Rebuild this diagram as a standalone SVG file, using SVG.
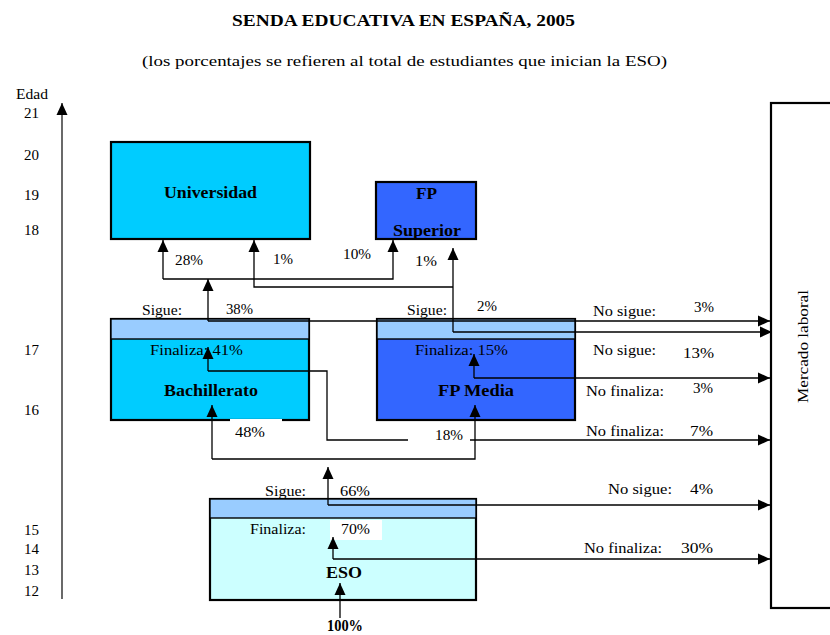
<svg xmlns="http://www.w3.org/2000/svg" width="830" height="635" viewBox="0 0 830 635">
<style>
text{font-family:"Liberation Serif","Times New Roman",serif;fill:#000}
.t{font-size:15px}
.b{font-size:17px;font-weight:bold}
.c{fill:none;stroke:#000;stroke-width:1.3}
.box{stroke:#000;stroke-width:2.2}
.band{fill:#99CCFF;stroke:#000;stroke-width:1.4}
.wl{fill:#fff;stroke:none}
</style>
<defs>
<marker id="ah" markerUnits="userSpaceOnUse" markerWidth="12" markerHeight="12" refX="12" refY="6" orient="auto"><path d="M0,0.5 L12,6 L0,11.5 z" fill="#000"/></marker>
</defs>
<rect width="830" height="635" fill="#fff"/>

<g id="title">
<text class="b" x="232" y="26" font-size="16" textLength="343" lengthAdjust="spacingAndGlyphs">SENDA EDUCATIVA EN ESPAÑA, 2005</text>
<text class="t" x="142" y="66" font-size="16" textLength="525" lengthAdjust="spacingAndGlyphs">(los porcentajes se refieren al total de estudiantes que inician la ESO)</text>
</g>

<g id="axis">
<line x1="62" y1="599" x2="62" y2="103" stroke="#444" stroke-width="1.6" marker-end="url(#ah)"/>
<text class="t" x="16" y="99" font-size="13" textLength="32" lengthAdjust="spacingAndGlyphs">Edad</text>
<text class="t" x="24" y="118" textLength="15" lengthAdjust="spacingAndGlyphs">21</text>
<text class="t" x="24" y="160" textLength="15" lengthAdjust="spacingAndGlyphs">20</text>
<text class="t" x="24" y="200" textLength="15" lengthAdjust="spacingAndGlyphs">19</text>
<text class="t" x="24" y="235" textLength="15" lengthAdjust="spacingAndGlyphs">18</text>
<text class="t" x="24" y="355" textLength="15" lengthAdjust="spacingAndGlyphs">17</text>
<text class="t" x="24" y="415" textLength="15" lengthAdjust="spacingAndGlyphs">16</text>
<text class="t" x="24" y="535" textLength="15" lengthAdjust="spacingAndGlyphs">15</text>
<text class="t" x="24" y="554" textLength="15" lengthAdjust="spacingAndGlyphs">14</text>
<text class="t" x="24" y="575" textLength="15" lengthAdjust="spacingAndGlyphs">13</text>
<text class="t" x="24" y="596" textLength="15" lengthAdjust="spacingAndGlyphs">12</text>
</g>

<g id="universidad">
<rect class="box" x="111" y="142" width="199" height="97" fill="#00CCFF"/>
<text class="b" x="164" y="198" textLength="93" lengthAdjust="spacingAndGlyphs">Universidad</text>
</g>

<g id="fp-superior">
<rect class="box" x="376" y="182" width="100" height="57" fill="#3366FF"/>
<text class="b" x="416" y="199" textLength="21" lengthAdjust="spacingAndGlyphs">FP</text>
<text class="b" x="393" y="236" textLength="68" lengthAdjust="spacingAndGlyphs">Superior</text>
</g>

<g id="bachillerato">
<rect class="wl" x="213" y="301" width="54" height="18"/>
<rect class="box" x="111" y="319" width="198" height="101" fill="#00CCFF"/>
<rect class="band" x="111" y="319" width="198" height="20"/>
<rect class="wl" x="230" y="419" width="52" height="24"/>
<text class="t" x="142" y="315" textLength="40" lengthAdjust="spacingAndGlyphs">Sigue:</text>
<text class="t" x="226" y="314" textLength="27" lengthAdjust="spacingAndGlyphs">38%</text>
<text class="t" x="150" y="355" textLength="93" lengthAdjust="spacingAndGlyphs">Finaliza: 41%</text>
<text class="b" x="164" y="396" textLength="94" lengthAdjust="spacingAndGlyphs">Bachillerato</text>
<text class="t" x="235" y="437" textLength="30" lengthAdjust="spacingAndGlyphs">48%</text>
</g>

<g id="fp-media">
<rect class="box" x="377" y="319" width="198" height="101" fill="#3366FF"/>
<rect class="band" x="377" y="319" width="198" height="20"/>
<text class="t" x="407" y="315" textLength="40" lengthAdjust="spacingAndGlyphs">Sigue:</text>
<text class="t" x="477" y="311" textLength="20" lengthAdjust="spacingAndGlyphs">2%</text>
<text class="t" x="415" y="355" textLength="93" lengthAdjust="spacingAndGlyphs">Finaliza: 15%</text>
<text class="b" x="438" y="396" textLength="76" lengthAdjust="spacingAndGlyphs">FP Media</text>
</g>

<g id="eso">
<rect class="wl" x="336" y="482" width="46" height="17"/>
<rect class="box" x="210" y="499" width="266" height="101" fill="#CCFFFF"/>
<rect class="band" x="210" y="499" width="266" height="19"/>
<rect class="wl" x="330" y="520" width="52" height="20"/>
<text class="t" x="265" y="496" textLength="41" lengthAdjust="spacingAndGlyphs">Sigue:</text>
<text class="t" x="340" y="496" textLength="30" lengthAdjust="spacingAndGlyphs">66%</text>
<text class="t" x="250" y="534" textLength="56" lengthAdjust="spacingAndGlyphs">Finaliza:</text>
<text class="t" x="341" y="534" textLength="29" lengthAdjust="spacingAndGlyphs">70%</text>
<text class="b" x="326" y="578" textLength="36" lengthAdjust="spacingAndGlyphs">ESO</text>
</g>

<g id="mercado-laboral">
<rect class="box" x="771" y="103" width="80" height="505" fill="#fff"/>
<text class="t" transform="translate(808,347) rotate(-90)" x="-56" y="0" textLength="113" lengthAdjust="spacingAndGlyphs">Mercado laboral</text>
</g>

<g id="connectors">
<path class="c" d="M340,618 V583" marker-end="url(#ah)"/>
<path class="c" d="M333,559 V537" marker-end="url(#ah)"/>
<path class="c" d="M333,559 H770" marker-end="url(#ah)"/>
<path class="c" d="M328,505 V467" marker-end="url(#ah)"/>
<path class="c" d="M328,505 H770" marker-end="url(#ah)"/>
<path class="c" d="M212,459 V405" marker-end="url(#ah)"/>
<path class="c" d="M212,459 H475 V405" marker-end="url(#ah)"/>
<path class="c" d="M208,371 V347" marker-end="url(#ah)"/>
<path class="c" d="M208,371 H327 V440 H770" marker-end="url(#ah)"/>
<path class="c" d="M474,378 V354" marker-end="url(#ah)"/>
<path class="c" d="M474,378 H770" marker-end="url(#ah)"/>
<path class="c" d="M208,321 V279" marker-end="url(#ah)"/>
<path class="c" d="M208,321 H770" marker-end="url(#ah)"/>
<path class="c" d="M163,279 V240" marker-end="url(#ah)"/>
<path class="c" d="M163,279 H393 V240" marker-end="url(#ah)"/>
<path class="c" d="M453,332 V248" marker-end="url(#ah)"/>
<path class="c" d="M453,287 H254 V240" marker-end="url(#ah)"/>
<path class="c" d="M453,332 H772" marker-end="url(#ah)"/>
</g>

<g id="labels">
<text class="t" x="175" y="265" textLength="28" lengthAdjust="spacingAndGlyphs">28%</text>
<text class="t" x="273" y="264" textLength="20" lengthAdjust="spacingAndGlyphs">1%</text>
<text class="t" x="343" y="259" textLength="28" lengthAdjust="spacingAndGlyphs">10%</text>
<text class="t" x="415" y="266" textLength="22" lengthAdjust="spacingAndGlyphs">1%</text>
<rect class="wl" x="408" y="426" width="62" height="20"/>
<text class="t" x="435" y="440" textLength="28" lengthAdjust="spacingAndGlyphs">18%</text>
<text class="t" x="593" y="316" textLength="63" lengthAdjust="spacingAndGlyphs">No sigue:</text>
<text class="t" x="694" y="312" textLength="20" lengthAdjust="spacingAndGlyphs">3%</text>
<text class="t" x="593" y="355" textLength="63" lengthAdjust="spacingAndGlyphs">No sigue:</text>
<text class="t" x="683" y="358" textLength="31" lengthAdjust="spacingAndGlyphs">13%</text>
<text class="t" x="586" y="396" textLength="78" lengthAdjust="spacingAndGlyphs">No finaliza:</text>
<text class="t" x="693" y="393" textLength="20" lengthAdjust="spacingAndGlyphs">3%</text>
<text class="t" x="586" y="436" textLength="78" lengthAdjust="spacingAndGlyphs">No finaliza:</text>
<text class="t" x="690" y="436" textLength="23" lengthAdjust="spacingAndGlyphs">7%</text>
<text class="t" x="608" y="494" textLength="64" lengthAdjust="spacingAndGlyphs">No sigue:</text>
<text class="t" x="690" y="494" textLength="23" lengthAdjust="spacingAndGlyphs">4%</text>
<text class="t" x="584" y="553" textLength="78" lengthAdjust="spacingAndGlyphs">No finaliza:</text>
<text class="t" x="681" y="553" textLength="32" lengthAdjust="spacingAndGlyphs">30%</text>
<text class="b" x="327" y="631" font-size="13" textLength="36" lengthAdjust="spacingAndGlyphs">100%</text>
</g>
</svg>
